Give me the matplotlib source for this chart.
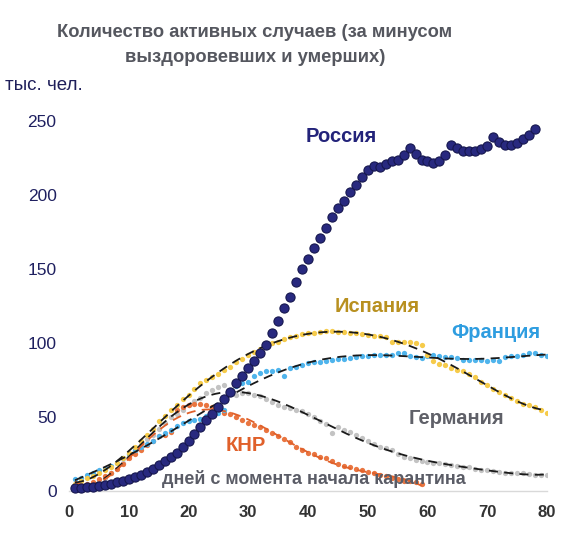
import numpy as np
import matplotlib
matplotlib.use("Agg")
import matplotlib.pyplot as plt

plt.rcParams["font.family"] = ["Liberation Sans", "DejaVu Sans"]

# active cases, thousands, by day since quarantine start
russia = [2, 2.3, 2.6, 3, 3.5, 4.2, 5, 6, 7, 8, 9.5, 11, 13, 15, 17.5, 20, 23, 26, 30, 34,
          38.5, 43, 48, 52, 57, 62, 67, 73, 78, 83, 88, 93, 99, 107, 115, 124, 131, 141, 150, 157,
          164, 171, 178, 185, 191, 196, 202, 207, 212, 217, 220, 219, 221, 223, 224, 227, 232, 228, 224, 223,
          222, 223, 227, 234, 232, 230, 230, 230, 231, 233, 239, 236, 234, 234, 235, 238, 241, 245]
spain = [5, 7, 9, 10, 12, 14, 16, 19, 22, 26, 30, 34, 38, 42, 47, 51, 55, 58, 62, 65,
         69, 73, 75, 77, 79, 82, 84, 87, 89, 92, 94, 96, 99, 100, 101, 103, 104, 105, 106, 106.5,
         107, 107.5, 108, 108, 107.8, 107.5, 107, 106.5, 106, 105.5, 105, 104.5, 104, 101, 101, 101, 100.5, 100, 98.5, 92,
         88, 86, 85, 83, 82, 81, 79, 77, 74, 72, 69, 67, 65, 63, 61, 59, 58, 57, 55, 53]
france = [8, 9, 11, 12, 14, 15, 17, 19, 22, 25, 28, 30, 32, 34, 37, 39, 41, 44, 46, 47,
          48, 49, 51, 52, 53, 55, 66, 71, 73, 74, 78, 80, 81, 81, 82, 78, 83, 84, 85.5, 86.5,
          87, 87.5, 88, 88.5, 89, 89.5, 90, 90.5, 91, 91, 92, 92, 92, 92, 93, 93, 91, 90.5, 90, 91,
          92, 91, 90.5, 90.5, 90, 88.5, 88.5, 88.5, 88.5, 88, 88.5, 88, 90.5, 91, 91, 92, 93, 93, 92, 91]
germany = [2, 3, 4, 5, 7, 9, 12, 15, 19, 23, 27, 31, 35, 38, 42, 46, 50, 52, 55, 58,
           61, 63, 66, 68, 70, 72, 66, 65, 66, 66, 65, 64, 62, 60, 58, 57, 56, 55, 54, 52,
           50, 47, 45, 39, 43, 41, 40, 38, 36, 34, 32, 30, 29, 28, 25, 23, 22, 21, 20, 19.5,
           19, 19, 18, 17.5, 17, 16.5, 16, 15, 14.5, 14, 13.5, 13, 12.5, 12, 12, 12, 11.5, 11, 11, 10.5]
china = [3, 4, 5, 6, 8, 10, 12, 15, 18, 22, 25, 28, 31, 34, 37, 38, 40, 55, 57, 58,
         58.5, 59, 58, 57, 55, 53, 52, 50, 48, 46, 44.5, 43, 41, 39, 37, 35, 33, 30, 28, 26,
         25, 23, 22, 20, 18.5, 17, 16, 15, 14, 13, 12, 11, 10, 9, 8, 7, 6.5, 6, 5]

series = [
    # data, colour, trend colour
    (germany, "#c3c3c3", "#1a1a1a"),
    (china, "#e97540", "#e0602a"),
    (france, "#4fb4ec", "#1a1a1a"),
    (spain, "#f6cb4a", "#1a1a1a"),
]

fig = plt.figure(figsize=(5.85, 5.34), dpi=100)
ax = fig.add_axes([0.118, 0.0805, 0.817, 0.6925])

for vals, col, tcol in series:
    days = np.arange(1, len(vals) + 1)
    ax.plot(days, vals, "o", ms=3.8, color=col, mec="none", zorder=2)
    # polynomial trendline, like the spreadsheet one
    coef = np.polyfit(days, vals, 6)
    xs = np.linspace(days[0], days[-1], 300)
    ax.plot(xs, np.polyval(coef, xs), color=tcol, lw=1.3, dashes=(5, 3.5), zorder=3)

rdays = np.arange(1, len(russia) + 1)
ax.plot(rdays, russia, "o", ms=6.6, color="#28297f", mec="#16174f", mew=0.8,
        zorder=4, clip_on=False)

ax.set_xlim(0, 80)
ax.set_ylim(0, 250)
ax.set_xticks(range(0, 81, 10))
ax.set_yticks(range(0, 251, 50))
for s in ["top", "right", "left"]:
    ax.spines[s].set_visible(False)
ax.spines["bottom"].set_color("#d9d9d9")
ax.spines["bottom"].set_linewidth(1)
ax.tick_params(length=0)
ax.tick_params(axis="y", labelsize=12.5, labelcolor="#1f2060", pad=9)
ax.tick_params(axis="x", labelsize=12, labelcolor="#333333", pad=10)
for lbl in ax.get_xticklabels():
    lbl.set_fontweight("bold")

lab = dict(fontweight="bold", ha="center", va="center", fontsize=14.5)
ax.text(45.5, 240, "Россия", color="#23237a", **lab)
ax.text(51.5, 125, "Испания", color="#b8901f", **lab)
ax.text(71.5, 107, "Франция", color="#2e9de0", **lab)
ax.text(64.9, 49, "Германия", color="#5f6068", **lab)
ax.text(29.6, 31, "КНР", color="#e0602a", **lab)
ax.text(41.0, 8.1, "дней с момента начала карантина", color="#5a5c66",
        fontweight="bold", ha="center", va="center", fontsize=13)

title = dict(ha="center", va="center", fontsize=13.2, fontweight="bold", color="#55575f")
fig.text(0.436, 0.939, "Количество активных случаев (за минусом", **title)
fig.text(0.436, 0.892, "выздоровевших и умерших)", **title)
fig.text(0.009, 0.84, "тыс. чел.", ha="left", va="center", fontsize=13.5, color="#1f1f5a")

fig.savefig("out.png", dpi=100)
